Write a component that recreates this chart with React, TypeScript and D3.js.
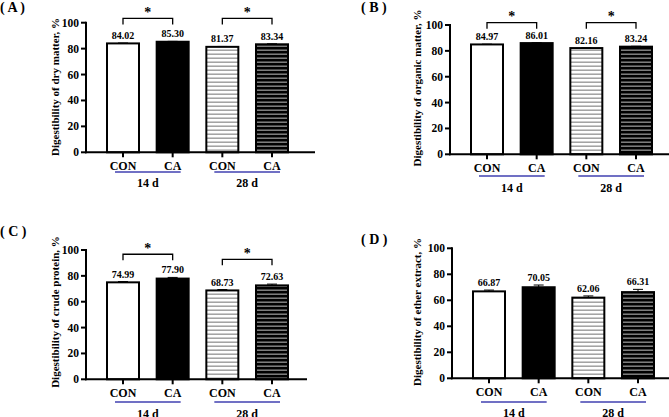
import React from "react";
import * as d3 from "d3";

const categories = ["CON", "CA", "CON", "CA"];
const groups = ["14 d", "28 d"];
const yTicks = [0, 20, 40, 60, 80, 100];

const dryMatter = [84.02, 85.3, 81.37, 83.34];
const dryMatterSem = [0.3, 0.3, 0.3, 0.4];
const organicMatter = [84.97, 86.01, 82.16, 83.24];
const organicMatterSem = [0.2, 0.3, 0.2, 0.3];
const crudeProtein = [74.99, 77.9, 68.73, 72.63];
const crudeProteinSem = [0.6, 0.9, 0.7, 1.0];
const etherExtract = [66.87, 70.05, 62.06, 66.31];
const etherExtractSem = [1.0, 1.7, 1.3, 2.1];

const FONT = "'Liberation Serif', 'Times New Roman', serif";

type Bracket = { a: number; b: number; level: number };

type PanelCfg = {
  tag: string;
  tagX: number;
  tagY: number;
  ylabel: string;
  ylabelX: number;
  ylabelY: number;
  axisX: number;
  y0: number;
  y100: number;
  xEnd: number;
  values: number[];
  sem: number[];
  brackets: Bracket[];
  catY: number;
  lineY: number;
  groupY: number;
};

const panels: PanelCfg[] = [
  {
    tag: "( A )", tagX: 0, tagY: 12,
    ylabel: "Digestibility of dry matter, %", ylabelX: 59, ylabelY: 87,
    axisX: 86, y0: 152.3, y100: 22.7, xEnd: 315,
    values: dryMatter, sem: dryMatterSem,
    brackets: [{ a: 0, b: 1, level: 103.3 }, { a: 2, b: 3, level: 103.3 }],
    catY: 170, lineY: 172, groupY: 187,
  },
  {
    tag: "( B )", tagX: 361, tagY: 12,
    ylabel: "Digestibility of organic matter, %", ylabelX: 421, ylabelY: 88,
    axisX: 450, y0: 154.3, y100: 25, xEnd: 670,
    values: organicMatter, sem: organicMatterSem,
    brackets: [{ a: 0, b: 1, level: 101.8 }, { a: 2, b: 3, level: 101.8 }],
    catY: 172, lineY: 176, groupY: 192,
  },
  {
    tag: "( C )", tagX: 0, tagY: 236,
    ylabel: "Digestibility of crude protein, %", ylabelX: 59, ylabelY: 312,
    axisX: 86, y0: 379.3, y100: 250, xEnd: 307,
    values: crudeProtein, sem: crudeProteinSem,
    brackets: [{ a: 0, b: 1, level: 96.7 }, { a: 2, b: 3, level: 92.8 }],
    catY: 397, lineY: 402, groupY: 418,
  },
  {
    tag: "( D )", tagX: 361, tagY: 244,
    ylabel: "Digestibility of ether extract, %", ylabelX: 421, ylabelY: 312,
    axisX: 452, y0: 378.3, y100: 248.3, xEnd: 670,
    values: etherExtract, sem: etherExtractSem,
    brackets: [],
    catY: 396, lineY: 402, groupY: 417,
  },
];

const fills = ["#ffffff", "#000000", "url(#hatchWhite)", "url(#hatchBlack)"];

function Panel({ cfg }: { cfg: PanelCfg }) {
  const y = d3.scaleLinear().domain([0, 100]).range([cfg.y0, cfg.y100]);
  const x = d3
    .scalePoint<number>()
    .domain(d3.range(categories.length))
    .range([cfg.axisX + 37, cfg.axisX + 186]);
  const bw = 32;
  return (
    <g fontFamily={FONT} fontWeight="bold">
      <text x={cfg.tagX} y={cfg.tagY} fontSize={14} xmlSpace="preserve">
        {cfg.tag}
      </text>
      <text
        transform={`translate(${cfg.ylabelX},${cfg.ylabelY}) rotate(-90)`}
        textAnchor="middle"
        fontSize={11}
      >
        {cfg.ylabel}
      </text>
      {/* bars */}
      {cfg.values.map((v, i) => {
        const cx = x(i)!;
        return (
          <g key={i}>
            <rect
              x={cx - bw / 2}
              y={y(v)}
              width={bw}
              height={y(0) - y(v)}
              fill={fills[i]}
              stroke="#000"
              strokeWidth={2}
            />
            <line x1={cx} x2={cx} y1={y(v)} y2={y(v + cfg.sem[i])} stroke="#000" strokeWidth={1} />
            <line
              x1={cx - 5}
              x2={cx + 5}
              y1={y(v + cfg.sem[i])}
              y2={y(v + cfg.sem[i])}
              stroke="#000"
              strokeWidth={1}
            />
            <text x={cx} y={y(v + cfg.sem[i]) - 4} textAnchor="middle" fontSize={10}>
              {v.toFixed(2)}
            </text>
          </g>
        );
      })}
      {/* axes */}
      <line x1={cfg.axisX} x2={cfg.axisX} y1={y(100) - 1} y2={y(0) + 1} stroke="#000" strokeWidth={2} />
      <line x1={cfg.axisX - 1} x2={cfg.xEnd} y1={y(0)} y2={y(0)} stroke="#000" strokeWidth={2} />
      {yTicks.map((t) => (
        <g key={t}>
          <line x1={cfg.axisX - 5} x2={cfg.axisX} y1={y(t)} y2={y(t)} stroke="#000" strokeWidth={2} />
          <text x={cfg.axisX - 7} y={y(t)} dy="0.35em" textAnchor="end" fontSize={11.5}>
            {t}
          </text>
        </g>
      ))}
      {categories.map((c, i) => (
        <g key={i}>
          <line x1={x(i)} x2={x(i)} y1={y(0)} y2={y(0) + 5} stroke="#000" strokeWidth={2} />
          <text x={x(i)} y={cfg.catY} textAnchor="middle" fontSize={12}>
            {c}
          </text>
        </g>
      ))}
      {groups.map((g, gi) => {
        const a = x(gi * 2)!;
        const b = x(gi * 2 + 1)!;
        return (
          <g key={g}>
            <line x1={a - 8} x2={b + 8} y1={cfg.lineY} y2={cfg.lineY} stroke="#4040b0" strokeWidth={1.5} />
            <text x={(a + b) / 2} y={cfg.groupY} textAnchor="middle" fontSize={12}>
              {g}
            </text>
          </g>
        );
      })}
      {cfg.brackets.map((br, k) => {
        const a = x(br.a)!;
        const b = x(br.b)!;
        const yt = y(br.level);
        return (
          <g key={k}>
            <path
              d={`M${a},${yt + 6}V${yt}H${b}V${yt + 6}`}
              fill="none"
              stroke="#000"
              strokeWidth={1.3}
            />
            <text x={(a + b) / 2} y={yt - 1.5} textAnchor="middle" fontSize={14}>
              *
            </text>
          </g>
        );
      })}
    </g>
  );
}

export default function App() {
  return (
    <svg
      width={669}
      height={417}
      style={{ position: "absolute", left: 0, top: 0, background: "#fff" }}
    >
      <defs>
        <pattern id="hatchWhite" patternUnits="userSpaceOnUse" width={8} height={4}>
          <rect width={8} height={4} fill="#fff" />
          <rect y={1.5} width={8} height={1.4} fill="#9a9a9a" />
        </pattern>
        <pattern id="hatchBlack" patternUnits="userSpaceOnUse" width={8} height={4}>
          <rect width={8} height={4} fill="#000" />
          <rect y={1.5} width={8} height={1.4} fill="#8a8a8a" />
        </pattern>
      </defs>
      <rect width={669} height={417} fill="#fff" />
      {panels.map((p) => (
        <Panel key={p.tag} cfg={p} />
      ))}
    </svg>
  );
}
